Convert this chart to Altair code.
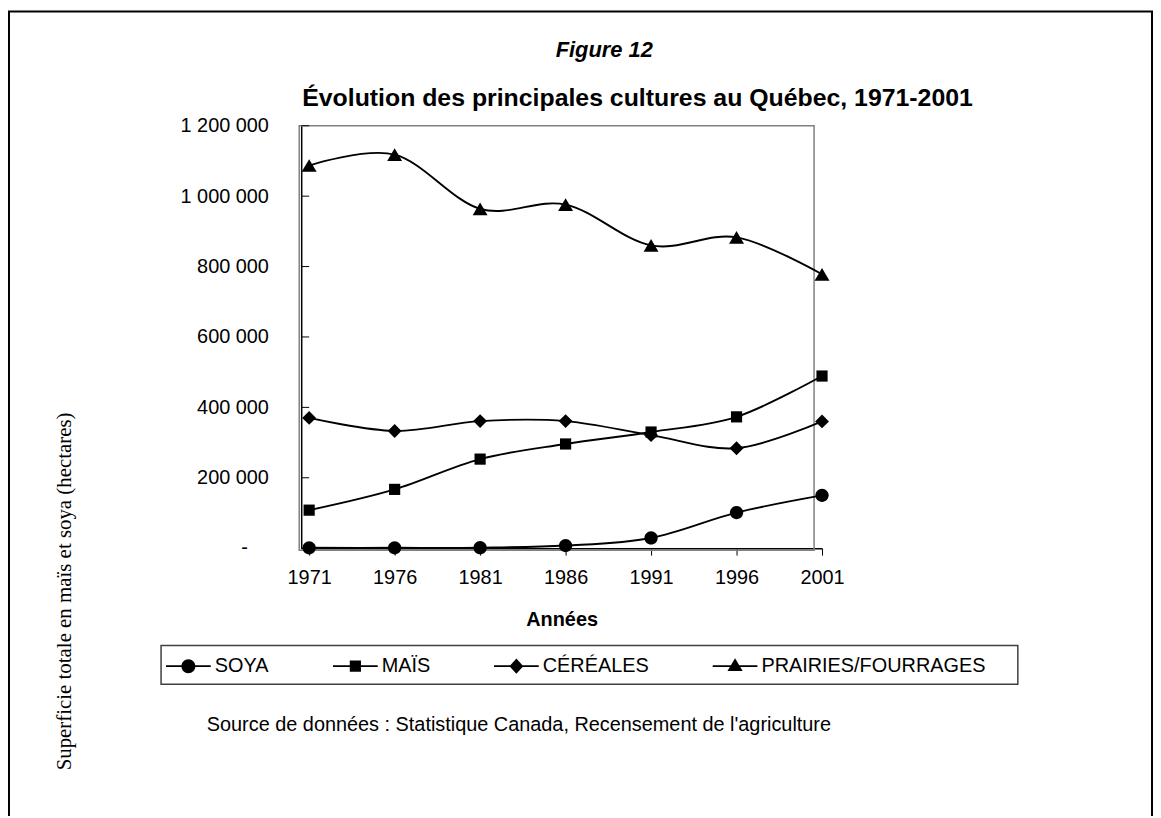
import altair as alt
import pandas as pd

# ---------------- data ----------------
years = [1971, 1976, 1981, 1986, 1991, 1996, 2001]
soya = [1000, 1000, 1500, 7500, 29000, 101000, 150000]
mais = [108000, 167000, 253000, 296000, 330000, 373000, 489000]
cereales = [370000, 333000, 361000, 361000, 321000, 284000, 360000]
prairies = [1087000, 1118000, 964000, 976000, 860000, 883000, 778000]
series = ["SOYA", "MAÏS", "CÉRÉALES", "PRAIRIES/FOURRAGES"]
y_ticks = [0, 200000, 400000, 600000, 800000, 1000000, 1200000]
zero_label = [{"valeur": 0, "t": "-"}]

fig_label = "Figure 12"
title_text = "Évolution des principales cultures au Québec, 1971-2001"
x_title = "Années"
y_title = "Superficie totale en maïs et soya (hectares)"
source_text = "Source de données : Statistique Canada, Recensement de l'agriculture"

values_by_series = [soya, mais, cereales, prairies]
rows = []
for name, vals in zip(series, values_by_series):
    for yr, v in zip(years, vals):
        rows.append({"annee": yr, "valeur": v, "serie": name})
df = pd.DataFrame(rows)

SANS = "Liberation Sans, Arial, sans-serif"
SERIF = "Liberation Serif, Times New Roman, serif"

# ---------------- scales / axes ----------------
xscale = alt.Scale(domain=[1970.535, 2001], nice=False, zero=False)
yscale = alt.Scale(domain=[0, 1200000], nice=False)

x_axis = alt.Axis(
    values=years, format="d", labelFlush=False, grid=False,
    tickSize=7, tickColor="black", tickWidth=1,
    domainColor="black", domainWidth=1.5,
    labelFont=SANS, labelFontSize=20, labelColor="black", labelPadding=13,
    titleFont=SANS, titleFontSize=20, titleFontWeight="bold", titleColor="black",
    titleX=262, titleY=78, titleAlign="center", titleBaseline="alphabetic",
)
y_axis = alt.Axis(
    values=y_ticks, grid=False, ticks=False, tickSize=0,
    domainColor="black", domainWidth=1.5,
    labelExpr="datum.value == 0 ? '' : replace(format(datum.value, ','), regexp(',', 'g'), ' ')",
    labelFont=SANS, labelFontSize=20, labelColor="black", labelPadding=33,
    titleFont=SERIF, titleFontSize=21, titleFontWeight="normal", titleColor="black",
    titleAngle=270, titleX=-238, titleY=468, titleAlign="center", titleBaseline="middle",
)

x_enc = alt.X("annee:Q", scale=xscale, axis=x_axis, title=x_title)
y_enc = alt.Y("valeur:Q", scale=yscale, axis=y_axis, title=y_title)

# chart marker shapes (unit square -1..1, drawn at size 225 -> 15 px box)
marker_paths = [
    "M-0.89,0A0.89,0.89,0,1,1,0.89,0A0.89,0.89,0,1,1,-0.89,0Z",
    "M-0.75,-0.75L0.75,-0.75L0.75,0.75L-0.75,0.75Z",
    "M0,-0.93L0.93,0L0,0.93L-0.93,0Z",
    "M0,-0.85L1,0.85L-1,0.85Z",
]

# legend symbols: line + marker as custom paths
line_part = "M-1,-0.04L1,-0.04L1,0.04L-1,0.04Z"
legend_paths = [
    line_part + "M-0.311,0A0.311,0.311,0,1,1,0.311,0A0.311,0.311,0,1,1,-0.311,0Z",
    line_part + "M-0.25,-0.25L0.25,-0.25L0.25,0.25L-0.25,0.25Z",
    line_part + "M0,-0.34L0.31,0L0,0.34L-0.31,0Z",
    line_part + "M0,-0.36L0.34,0.22L-0.34,0.22Z",
]

# ---------------- layers ----------------
one = alt.Data(values=[{}])

frame = alt.Chart(one).mark_rect(fill=None, stroke="#808080", strokeWidth=1.5).encode(
    x=alt.value(-2), x2=alt.value(516), y=alt.value(0), y2=alt.value(427)
)

inner_ticks = alt.Chart(pd.DataFrame({"valeur": y_ticks})).mark_rule(
    color="black", strokeWidth=1
).encode(y=y_enc, x=alt.value(0), x2=alt.value(8))

zero_txt = alt.Chart(alt.Data(values=zero_label)).mark_text(
    align="center", baseline="middle", font=SANS, fontSize=20, color="black"
).encode(y=y_enc, x=alt.value(-57), text="t:N")

lines = alt.Chart(df).mark_line(
    interpolate="cardinal", tension=0, color="black", strokeWidth=1.9
).encode(x=x_enc, y=y_enc, detail="serie:N")

points = alt.Chart(df).mark_point(
    filled=True, color="black", opacity=1, size=225, strokeWidth=0
).encode(
    x=x_enc, y=y_enc,
    shape=alt.Shape("serie:N", scale=alt.Scale(domain=series, range=marker_paths),
                    legend=None),
)

legend_layer = alt.Chart(df).transform_filter("datum.annee < 0").mark_point(
    filled=True, color="black", opacity=1
).encode(
    x=x_enc, y=y_enc,
    shape=alt.Shape(
        "serie:N",
        scale=alt.Scale(domain=series, range=legend_paths),
        legend=alt.Legend(
            orient="none", legendX=-136, legendY=521, direction="horizontal",
            columns=4, columnPadding=64, title=None, padding=0,
            labelFont=SANS, labelFontSize=20, labelColor="black", labelOffset=4,
            labelLimit=0,
            symbolSize=2025, symbolFillColor="black", symbolStrokeColor="black",
            symbolStrokeWidth=0, symbolOpacity=1,
        ),
    ),
)

legend_box = alt.Chart(one).mark_rect(fill=None, stroke="#404040", strokeWidth=1.5).encode(
    x=alt.value(-141), x2=alt.value(721), y=alt.value(523), y2=alt.value(562)
)

outer_border = alt.Chart(one).mark_rect(fill=None, stroke="black", strokeWidth=2).encode(
    x=alt.value(-294), x2=alt.value(856), y=alt.value(-115), y2=alt.value(720)
)

fig_txt = alt.Chart(alt.Data(values=[{"t": fig_label}])).mark_text(
    align="left", baseline="alphabetic", font=SANS, fontSize=22,
    fontWeight="bold", fontStyle="italic", color="black"
).encode(x=alt.value(256), y=alt.value(-69), text="t:N")

title_txt = alt.Chart(alt.Data(values=[{"t": title_text}])).mark_text(
    align="left", baseline="alphabetic", font=SANS, fontSize=25,
    fontWeight="bold", color="black"
).encode(x=alt.value(1), y=alt.value(-20), text="t:N")

source_txt = alt.Chart(alt.Data(values=[{"t": source_text}])).mark_text(
    align="left", baseline="alphabetic", font=SANS, fontSize=20, color="black"
).encode(x=alt.value(-95), y=alt.value(609), text="t:N")

chart = alt.layer(
    frame, inner_ticks, zero_txt, lines, points, legend_layer, legend_box, outer_border,
    fig_txt, title_txt, source_txt,
).resolve_scale(shape="independent").properties(
    width=524, height=425,
    autosize=alt.AutoSizeParams(type="none"),
    padding={"left": 295, "top": 116, "right": 333, "bottom": 267},
    background="white",
).configure_view(stroke=None)

chart.save("out.html", embed_options={"renderer": "svg", "actions": False})
